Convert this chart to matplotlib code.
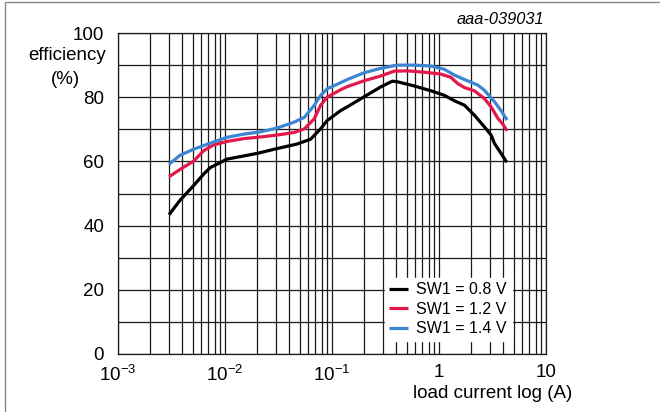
import numpy as np
import matplotlib.pyplot as plt
from matplotlib.patches import Rectangle

plt.rcParams['font.family'] = ['Liberation Sans', 'DejaVu Sans']
plt.rcParams['mathtext.fontset'] = 'custom'
plt.rcParams['mathtext.rm'] = 'Liberation Sans'

# load current (A) and efficiency (%) per SW1 voltage
x_08 = [3.0e-3, 3.8e-3, 5.1e-3, 6.3e-3, 7.3e-3, 8.4e-3, 1.04e-2, 2.0e-2, 3.07e-2,
        4.7e-2, 6.3e-2, 7.8e-2, 9.0e-2, 0.12, 0.139, 0.199, 0.285, 0.367, 0.409,
        0.587, 0.84, 1.12, 1.39, 1.73, 2.14, 2.65, 3.07, 3.3, 3.8, 4.3]
eff_08 = [43.4, 47.9, 52.5, 56.0, 58.1, 59.1, 60.7, 62.5, 64.0,
          65.4, 66.9, 70.1, 72.7, 75.8, 77.0, 80.1, 83.2, 85.0, 84.8,
          83.5, 82.0, 80.6, 78.9, 77.5, 74.4, 70.8, 68.2, 65.6, 62.5, 59.7]

x_12 = [3.0e-3, 3.8e-3, 5.1e-3, 6.3e-3, 7.8e-3, 1.04e-2, 1.5e-2, 2.14e-2, 3.07e-2,
        4.4e-2, 5.5e-2, 6.8e-2, 7.8e-2, 9.0e-2, 0.12, 0.139, 0.199, 0.285, 0.38,
        0.507, 0.727, 1.04, 1.29, 1.49, 1.73, 2.14, 2.65, 3.07, 3.55, 3.95, 4.33]
eff_12 = [55.2, 57.5, 60.1, 63.3, 65.1, 66.2, 67.1, 67.6, 68.2,
          69.0, 70.1, 73.2, 77.4, 80.0, 82.3, 83.3, 85.1, 86.6, 88.1,
          88.2, 87.8, 87.2, 86.2, 84.3, 83.0, 82.0, 79.6, 77.0, 73.4, 71.6, 69.5]

x_14 = [3.0e-3, 3.8e-3, 5.1e-3, 7.3e-3, 1.04e-2, 1.5e-2, 2.14e-2, 3.07e-2, 4.4e-2,
        5.5e-2, 6.8e-2, 7.8e-2, 9.0e-2, 0.12, 0.139, 0.199, 0.285, 0.409, 0.587,
        0.84, 1.12, 1.39, 1.73, 2.3, 2.65, 3.3, 3.8, 4.33]
eff_14 = [59.1, 61.9, 63.8, 65.7, 67.5, 68.5, 69.2, 70.4, 72.2,
          73.7, 77.4, 80.5, 82.6, 84.5, 85.5, 87.6, 89.0, 90.0, 90.0,
          89.7, 88.7, 86.9, 85.5, 83.8, 82.2, 78.6, 75.8, 72.9]

labels = ['SW1 = 0.8 V', 'SW1 = 1.2 V', 'SW1 = 1.4 V']
colors = ['black', '#e3174b', '#3d85d3']
y_ticks = [0, 20, 40, 60, 80, 100]
x_ticks = [1e-3, 1e-2, 1e-1, 1, 10]
x_ticklabels = ['$10^{-3}$', '$10^{-2}$', '$10^{-1}$', '1', '10']

fig = plt.figure(figsize=(6.6, 4.12), dpi=100)
ax = fig.add_axes([118/660, 1-354/412, 428/660, 321/412])

for xs, ys, lab, col in zip([x_08, x_12, x_14], [eff_08, eff_12, eff_14], labels, colors):
    ax.plot(xs, ys, color=col, lw=2.3, label=lab, solid_capstyle='butt')

ax.set_xscale('log')
ax.set_xlim(1e-3, 10)
ax.set_ylim(0, 100)
ax.set_yticks(y_ticks)
ax.set_yticks(np.arange(0, 101, 10), minor=True)
ax.set_xticks(x_ticks)
ax.set_xticklabels(x_ticklabels)
ax.grid(True, which='both', color='#1a1a1a', lw=0.9)
ax.set_axisbelow(True)
ax.tick_params(which='both', length=0, labelsize=13.5, pad=7)
ax.tick_params(axis='y', pad=10)
for s in ax.spines.values():
    s.set_color('#1a1a1a')
    s.set_linewidth(0.9)

leg = ax.legend(loc='lower right', bbox_to_anchor=(0.92, 0.04), fontsize=11.5,
                frameon=True, fancybox=False, framealpha=1, edgecolor='white',
                handlelength=1.2, handletextpad=0.5, borderpad=0.3,
                labelspacing=0.28, borderaxespad=0)

fig.text(106/660, 1-55/412, 'efficiency', ha='right', va='center', fontsize=13.5)
fig.text(65/660, 1-79/412, '(%)', ha='center', va='center', fontsize=13.5)
fig.text(544/660, 1-20/412, 'aaa-039031', ha='right', va='center', fontsize=11.8,
         style='italic')
fig.text(572/660, 1-393/412, 'load current log (A)', ha='right', va='center',
         fontsize=13.5)

fig.patches.append(Rectangle((5/660, -0.05), 1.1, 1.05 - 2/412, transform=fig.transFigure,
                             fill=False, edgecolor='#888888', lw=1.0))

fig.savefig('out.png', dpi=100)
